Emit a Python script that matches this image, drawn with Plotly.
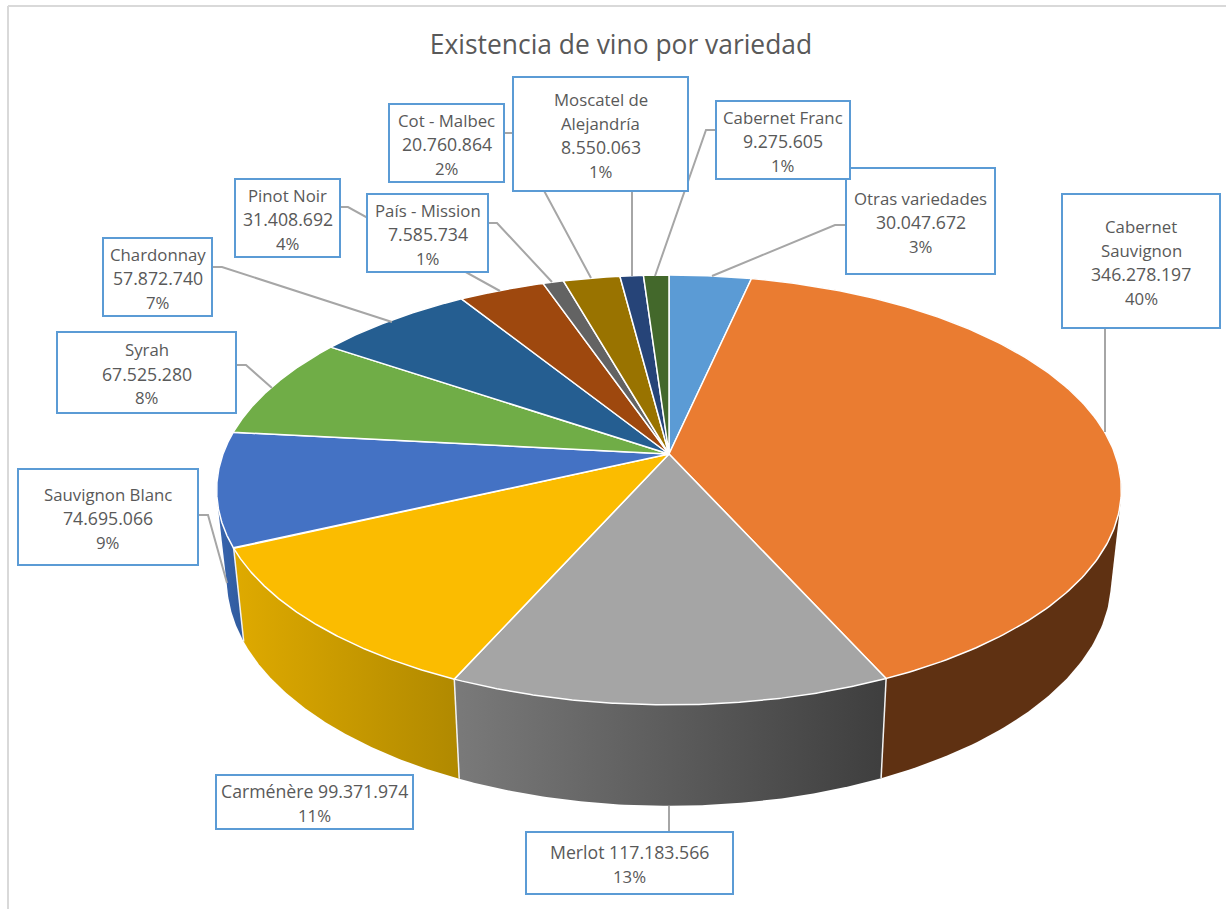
import numpy as np
import plotly.graph_objects as go

TITLE = "Existencia de vino por variedad"
varieties = ["Otras variedades", "Cabernet Sauvignon", "Merlot", "Carménère", "Sauvignon Blanc", "Syrah",
             "Chardonnay", "Pinot Noir", "País - Mission", "Cot - Malbec", "Moscatel de Alejandría", "Cabernet Franc"]
volumes = [30047672, 346278197, 117183566, 99371974, 74695066, 67525280,
           57872740, 31408692, 7585734, 20760864, 8550063, 9275605]
volume_labels = ["30.047.672", "346.278.197", "117.183.566", "99.371.974", "74.695.066", "67.525.280",
                 "57.872.740", "31.408.692", "7.585.734", "20.760.864", "8.550.063", "9.275.605"]
percent_labels = ["3%", "40%", "13%", "11%", "9%", "8%", "7%", "4%", "1%", "2%", "1%", "1%"]
top_colors = ["#5b9bd5", "#ea7c31", "#a5a5a5", "#fbbc00", "#4472c4", "#70ad47",
              "#255e91", "#9e480e", "#636363", "#997300", "#264478", "#43682b"]

# label text lines as in the picture
label_lines = [
    ["Otras variedades", "30.047.672", "3%"],
    ["Cabernet", "Sauvignon", "346.278.197", "40%"],
    ["Merlot 117.183.566", "13%"],
    ["Carménère 99.371.974", "11%"],
    ["Sauvignon Blanc", "74.695.066", "9%"],
    ["Syrah", "67.525.280", "8%"],
    ["Chardonnay", "57.872.740", "7%"],
    ["Pinot Noir", "31.408.692", "4%"],
    ["País - Mission", "7.585.734", "1%"],
    ["Cot - Malbec", "20.760.864", "2%"],
    ["Moscatel de", "Alejandría", "8.550.063", "1%"],
    ["Cabernet Franc", "9.275.605", "1%"],
]
boxes = [(846, 168, 995, 274), (1062, 194, 1220, 328), (526, 832, 733, 894), (216, 775, 413, 829),
         (18, 469, 198, 565), (57, 332, 236, 413), (103, 238, 212, 316), (235, 179, 340, 257),
         (367, 194, 488, 272), (389, 104, 504, 182), (513, 77, 688, 191), (716, 101, 850, 179)]
leaders = [
    [(846, 225), (835, 225), (712, 276)],
    [(1105, 328), (1105, 432)],
    [(669, 806), (669, 832)],
    [(198, 515), (208, 515), (227, 583)],
    [(236, 365), (246, 365), (272, 388)],
    [(212, 267), (222, 267), (392, 322)],
    [(340, 207), (348, 207), (500, 291)],
    [(488, 223), (497, 223), (552, 282)],
    [(504, 133), (513, 133), (591, 278)],
    [(632, 191), (632, 276)],
    [(716, 130), (706, 130), (655, 276)],
]

# side wall styling: index of slice -> gradient
side_styles = {
    4: ("#3a66b0", "#2f5a9c"),
    1: ("#5f3112", "#5f3112"),
    3: ("#dfaa00", "#b08900"),
    2: ("#7a7a7a", "#3e3e3e"),
}

CX, CY, A, B, K = 669.0, 454.0, 446.0, 209.0, 0.167
X_SCALE, Y_SCALE, DROP = 0.977, 1.05, 88.4
FONT = "Open Sans"
TEXT = "#595959"
LINE_STEP = 24

def top(theta):
    X, Y = np.sin(theta), np.cos(theta)
    d = 1 + K * Y
    return CX + A * X / d, CY - B * Y / d

def bottom(theta):
    x, y = top(theta)
    return CX + X_SCALE * (x - CX), CY + DROP + Y_SCALE * (y - CY)

def hull(px, py):
    pts = sorted(set(zip(np.round(px, 2).tolist(), np.round(py, 2).tolist())))
    def half(seq):
        out = []
        for p in seq:
            while len(out) >= 2 and (out[-1][0]-out[-2][0])*(p[1]-out[-2][1]) - (out[-1][1]-out[-2][1])*(p[0]-out[-2][0]) <= 0:
                out.pop()
            out.append(p)
        return out
    lo, up = half(pts), half(pts[::-1])
    h = lo[:-1] + up[:-1]
    h.append(h[0])
    return [p[0] for p in h], [p[1] for p in h]

def line_size(t):
    if any(ch.isdigit() for ch in t) and "%" not in t:
        return 17.7
    return 16.8

total = sum(volumes)
edges = 2 * np.pi * np.concatenate([[0], np.cumsum(volumes)]) / total

fig = go.Figure()

# side walls
for i in [4, 1, 3, 2]:
    th = np.linspace(edges[i], edges[i + 1], 160)
    tx, ty = top(th)
    bx, by = bottom(th)
    hx, hy = hull(np.r_[tx, bx], np.r_[ty, by])
    c0, c1 = side_styles[i]
    fig.add_trace(go.Scatter(
        x=hx, y=hy, mode="lines", line=dict(width=0), fill="toself",
        fillgradient=dict(type="horizontal", colorscale=[[0, c0], [1, c1]]),
        hoverinfo="skip", showlegend=False))

# white separators between visible walls
for e in [edges[2], edges[3], edges[4]]:
    x0, y0 = top(e)
    x1, y1 = bottom(e)
    fig.add_trace(go.Scatter(x=[float(x0), float(x1)], y=[float(y0), float(y1)], mode="lines",
                             line=dict(color="#f2f2f2", width=1.5), hoverinfo="skip", showlegend=False))

# top faces
for i in range(len(volumes)):
    th = np.linspace(edges[i], edges[i + 1], 200)
    x, y = top(th)
    fig.add_trace(go.Scatter(
        x=np.r_[CX, x, CX], y=np.r_[CY, y, CY], mode="lines", fill="toself",
        fillcolor=top_colors[i], line=dict(color="#ffffff", width=1.5),
        name=varieties[i], text=f"{volume_labels[i]} ({percent_labels[i]})",
        hoverinfo="name+text", showlegend=False))

shapes = [
    dict(type="line", x0=8, x1=8, y0=6, y1=909, line=dict(color="#d9d9d9", width=2)),
    dict(type="line", x0=8, x1=1226, y0=6, y1=6, line=dict(color="#d9d9d9", width=2)),
]
for pts in leaders:
    path = "M " + " L ".join(f"{a} {b}" for a, b in pts)
    shapes.append(dict(type="path", path=path, line=dict(color="#a6a6a6", width=2)))
for x0, y0, x1, y1 in boxes:
    shapes.append(dict(type="rect", x0=x0, y0=y0, x1=x1, y1=y1, fillcolor="#ffffff",
                       line=dict(color="#5b9bd5", width=2)))

annotations = []
for (x0, y0, x1, y1), lines in zip(boxes, label_lines):
    first = (y0 + y1) / 2 + 1 - LINE_STEP * (len(lines) - 1) / 2
    for n, t in enumerate(lines):
        annotations.append(dict(x=(x0 + x1) / 2, y=first + n * LINE_STEP, text=t, showarrow=False,
                                xanchor="center", yanchor="middle",
                                font=dict(family=FONT, size=line_size(t), color=TEXT)))

fig.update_layout(
    width=1226, height=909, margin=dict(l=0, r=0, t=0, b=0),
    paper_bgcolor="#ffffff", plot_bgcolor="#ffffff", showlegend=False,
    xaxis=dict(range=[0, 1226], visible=False, fixedrange=True),
    yaxis=dict(range=[909, 0], visible=False, fixedrange=True),
    title=dict(text=TITLE, x=621 / 1226, y=1 - 45 / 909, xanchor="center", yanchor="middle",
               font=dict(family=FONT, size=26.4, color=TEXT)),
    shapes=shapes, annotations=annotations,
)

fig.write_html("out.html", config={"displayModeBar": False},
               post_script="document.body.style.margin='0';document.body.style.overflow='hidden';")
